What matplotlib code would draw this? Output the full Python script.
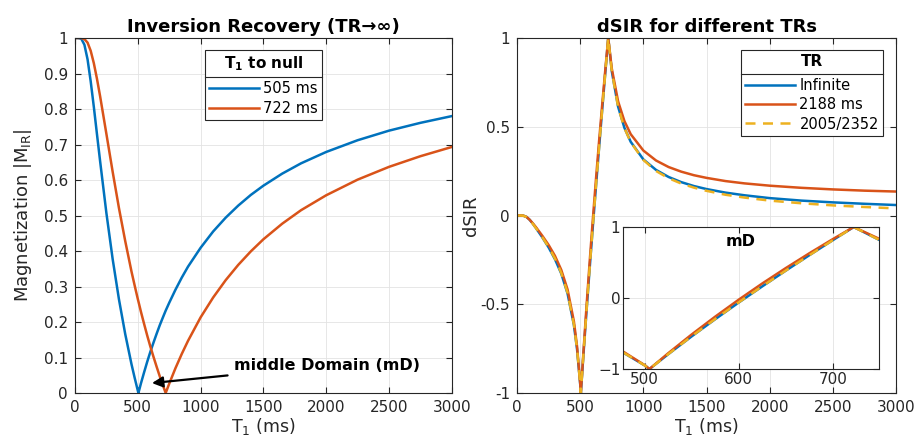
import matplotlib
matplotlib.use("Agg")
import matplotlib.pyplot as plt
from matplotlib.lines import Line2D

# T1 grid (ms)
t1 = [0, 25, 50, 75, 100, 125, 150, 175, 200, 250, 300, 350, 400, 450, 475, 500, 505,
      525, 550, 575, 600, 625, 650, 675, 700, 722, 750, 800, 850, 900, 1000, 1100, 1200,
      1300, 1400, 1500, 1650, 1800, 2000, 2250, 2500, 2750, 3000]

# |M_IR| for the two T1 to null
mir_505 = [1.000, 1.000, 0.998, 0.981, 0.940, 0.878, 0.806, 0.729, 0.653, 0.507, 0.377, 0.264,
           0.166, 0.081, 0.043, 0.007, 0.000, 0.027, 0.058, 0.088, 0.116, 0.142, 0.167, 0.191,
           0.213, 0.232, 0.254, 0.291, 0.325, 0.356, 0.409, 0.455, 0.494, 0.528, 0.558, 0.584,
           0.618, 0.647, 0.679, 0.712, 0.739, 0.761, 0.780]
mir_722 = [1.000, 1.000, 1.000, 0.997, 0.987, 0.964, 0.929, 0.885, 0.836, 0.730, 0.623, 0.521,
           0.428, 0.342, 0.303, 0.265, 0.258, 0.229, 0.195, 0.162, 0.131, 0.102, 0.074, 0.047,
           0.022, 0.000, 0.026, 0.070, 0.110, 0.147, 0.213, 0.269, 0.318, 0.361, 0.399, 0.433,
           0.477, 0.515, 0.557, 0.601, 0.637, 0.667, 0.693]

# dSIR for the different TRs
dsir_inf = [0.000, -0.000, -0.001, -0.008, -0.024, -0.046, -0.071, -0.097, -0.123, -0.180, -0.246,
            -0.327, -0.440, -0.616, -0.752, -0.949, -1.000, -0.791, -0.539, -0.297, -0.062, 0.165,
            0.387, 0.604, 0.816, 1.000, 0.813, 0.613, 0.494, 0.415, 0.316, 0.257, 0.217, 0.188,
            0.166, 0.149, 0.129, 0.114, 0.098, 0.084, 0.074, 0.066, 0.059]
dsir_2188 = [0.000, -0.000, -0.001, -0.008, -0.024, -0.044, -0.066, -0.090, -0.114, -0.166, -0.227,
             -0.306, -0.417, -0.596, -0.737, -0.946, -1.000, -0.777, -0.512, -0.261, -0.022, 0.206,
             0.423, 0.631, 0.831, 1.000, 0.828, 0.643, 0.532, 0.458, 0.366, 0.310, 0.273, 0.247,
             0.227, 0.212, 0.194, 0.181, 0.168, 0.156, 0.147, 0.140, 0.135]
dsir_2005_2352 = [0.000, -0.000, -0.001, -0.009, -0.025, -0.047, -0.071, -0.096, -0.122, -0.177,
                  -0.242, -0.323, -0.436, -0.614, -0.750, -0.949, -1.000, -0.790, -0.537, -0.294,
                  -0.060, 0.167, 0.388, 0.604, 0.816, 1.000, 0.813, 0.612, 0.493, 0.413, 0.313,
                  0.251, 0.210, 0.180, 0.157, 0.139, 0.117, 0.101, 0.084, 0.069, 0.057, 0.048, 0.040]

blue = "#0072BD"
orange = "#D95319"
yellow = "#EDB120"
axcol = "#262626"

plt.rcParams["font.family"] = "DejaVu Sans"
plt.rcParams["font.size"] = 10.5


def style(ax):
    ax.tick_params(direction="in", top=True, right=True, length=4, colors=axcol,
                   labelsize=11, pad=5)
    for s in ax.spines.values():
        s.set_color(axcol)
        s.set_linewidth(0.8)
    ax.grid(True, color="#e3e3e3", lw=0.6)
    ax.set_axisbelow(True)


def make_legend(ax, title, loc, anchor):
    leg = ax.legend(loc=loc, bbox_to_anchor=anchor, title=title,
                    title_fontproperties={"weight": "bold", "size": 11}, fancybox=False,
                    edgecolor=axcol, framealpha=1, handlelength=3.4, labelspacing=0.3,
                    borderpad=0.3, handletextpad=0.3, borderaxespad=0)
    leg.get_frame().set_linewidth(0.8)
    leg._legend_box.sep = 6
    return leg


def add_sep(fig, leg):
    # line under the legend title, like MATLAB
    fig.canvas.draw()
    r = fig.canvas.get_renderer()
    fb = leg.get_frame().get_window_extent(r)
    tb = leg.get_title().get_window_extent(r)
    hb = leg._legend_handle_box.get_window_extent(r)
    y = (tb.y0 + hb.y1) / 2
    W, H = fig.get_size_inches() * fig.dpi
    fig.add_artist(Line2D([fb.x0 / W, fb.x1 / W], [y / H, y / H], transform=fig.transFigure,
                          color=axcol, lw=0.8))


fig = plt.figure(figsize=(9.19, 4.46), dpi=100)

# left panel
ax1 = fig.add_axes([0.0816, 0.1188, 0.410, 0.796])
style(ax1)
ax1.plot(t1, mir_505, color=blue, lw=1.8, label="505 ms")
ax1.plot(t1, mir_722, color=orange, lw=1.8, label="722 ms")
ax1.set_xlim(0, 3000)
ax1.set_ylim(0, 1)
ax1.set_xticks(range(0, 3001, 500))
ax1.set_yticks([i / 10 for i in range(11)])
ax1.set_yticklabels(["0", "0.1", "0.2", "0.3", "0.4", "0.5", "0.6", "0.7", "0.8", "0.9", "1"])
ax1.set_title("Inversion Recovery (TR\u2192\u221e)", fontweight="bold", fontsize=13, pad=4)
ax1.set_xlabel("T$_1$ (ms)", fontsize=12.5, labelpad=1, color=axcol)
ax1.set_ylabel("Magnetization |M$_{\\mathrm{IR}}$|", fontsize=13, color=axcol, labelpad=7)
leg1 = make_legend(ax1, "T$_\\mathbf{1}$ to null", "upper left", (0.345, 0.966))
ax1.annotate("middle Domain (mD)", xy=(613, 0.028), xytext=(1270, 0.078),
             fontweight="bold", fontsize=11.5, va="center", ha="left",
             arrowprops=dict(arrowstyle="-|>", color="k", lw=1.6, mutation_scale=16,
                             shrinkA=3, shrinkB=0))

# right panel
ax2 = fig.add_axes([0.5626, 0.1188, 0.4124, 0.796])
style(ax2)
ax2.plot(t1, dsir_inf, color=blue, lw=1.8, label="Infinite")
ax2.plot(t1, dsir_2188, color=orange, lw=1.8, label="2188 ms")
ax2.plot(t1, dsir_2005_2352, color=yellow, lw=1.8, ls=(0, (4, 3)), label="2005/2352")
ax2.set_xlim(0, 3000)
ax2.set_ylim(-1, 1)
ax2.set_xticks(range(0, 3001, 500))
ax2.set_yticks([-1, -0.5, 0, 0.5, 1])
ax2.set_yticklabels(["-1", "-0.5", "0", "0.5", "1"])
ax2.set_title("dSIR for different TRs", fontweight="bold", fontsize=13, pad=4)
ax2.set_xlabel("T$_1$ (ms)", fontsize=12.5, labelpad=1, color=axcol)
ax2.set_ylabel("dSIR", fontsize=13, color=axcol, labelpad=0)
leg2 = make_legend(ax2, "TR", "upper right", (0.966, 0.966))

# inset: middle domain
ax3 = fig.add_axes([0.678, 0.1726, 0.2786, 0.3184])
style(ax3)
ax3.plot(t1, dsir_inf, color=blue, lw=1.8)
ax3.plot(t1, dsir_2188, color=orange, lw=1.8)
ax3.plot(t1, dsir_2005_2352, color=yellow, lw=1.8, ls=(0, (4, 3)))
ax3.set_xlim(477, 749)
ax3.set_ylim(-1, 1)
ax3.set_xticks([500, 600, 700])
ax3.set_yticks([-1, 0, 1])
ax3.tick_params(labelsize=11, pad=2)
ax3.text(0.46, 0.90, "mD", transform=ax3.transAxes, ha="center", va="center",
         fontweight="bold", fontsize=11.5)

add_sep(fig, leg1)
add_sep(fig, leg2)

fig.savefig("out.png", dpi=100)
